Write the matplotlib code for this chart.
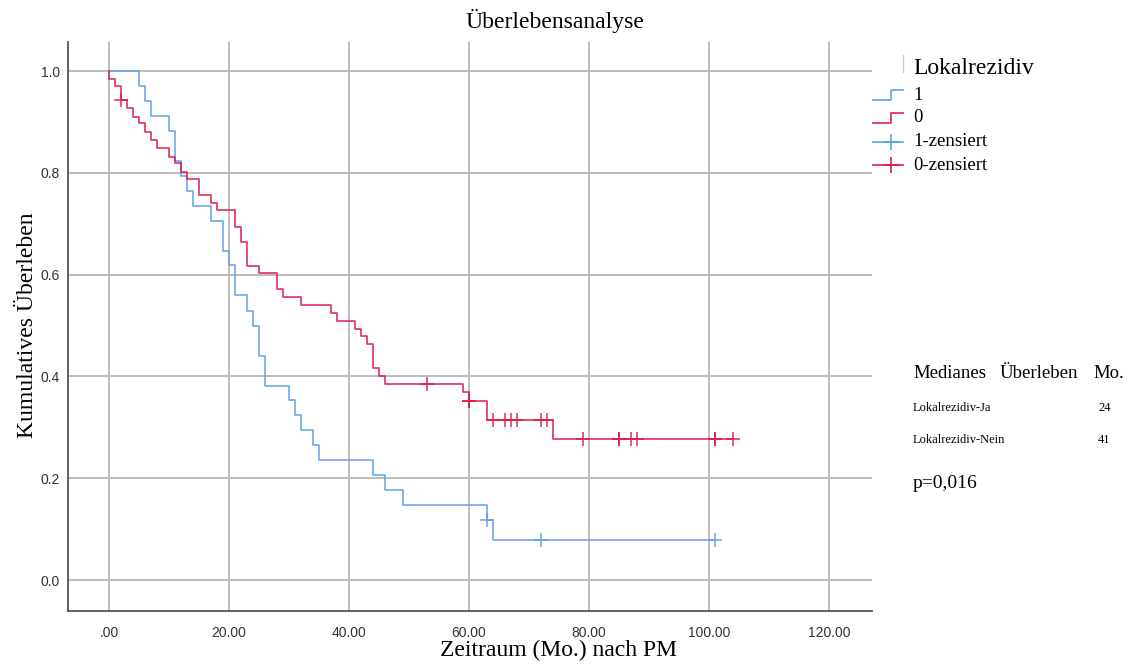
import numpy as np
import matplotlib
matplotlib.use('Agg')
import matplotlib.pyplot as plt
from matplotlib.lines import Line2D
from matplotlib import font_manager

# Lokalrezidiv = 1 (Ja): event times and survival after each drop
blue_event_t = [5, 6, 7, 10, 11, 12, 13, 14, 17, 19, 20, 21, 23, 24, 25, 26,
                30, 31, 32, 34, 35, 44, 46, 49, 63, 64]
blue_surv = [0.971, 0.941, 0.912, 0.882, 0.824, 0.794, 0.765, 0.735, 0.706,
             0.647, 0.618, 0.559, 0.529, 0.500, 0.441, 0.382, 0.353, 0.324,
             0.294, 0.265, 0.235, 0.206, 0.176, 0.147, 0.118, 0.078]
blue_end = 101
blue_cens_t = [63, 72, 101]

# Lokalrezidiv = 0 (Nein)
red_event_t = [0, 1, 2, 3, 4, 5, 6, 7, 8, 10, 11, 12, 13, 15, 17, 18, 21, 22,
               23, 25, 28, 29, 32, 37, 38, 41, 42, 43, 44, 45, 46, 59, 60, 63, 74]
red_surv = [0.985, 0.970, 0.943, 0.927, 0.910, 0.897, 0.881, 0.864, 0.848,
            0.832, 0.819, 0.802, 0.787, 0.756, 0.741, 0.726, 0.694, 0.665,
            0.617, 0.603, 0.571, 0.556, 0.541, 0.525, 0.509, 0.494, 0.479,
            0.463, 0.416, 0.401, 0.385, 0.370, 0.352, 0.314, 0.278]
red_end = 104
red_cens_t = [2, 53, 60, 60, 64, 66, 67, 68, 72, 73, 79, 85, 85, 87, 88,
              101, 101, 104]

x_ticks = [0, 20, 40, 60, 80, 100, 120]
x_ticklabels = ['.00', '20.00', '40.00', '60.00', '80.00', '100.00', '120.00']
y_ticks = [0.0, 0.2, 0.4, 0.6, 0.8, 1.0]

legend_labels = ['1', '0', '1-zensiert', '0-zensiert']
median_rows = [('Lokalrezidiv-Ja', '24'), ('Lokalrezidiv-Nein', '41')]
p_text = 'p=0,016'

BLUE = '#5f9fe8'
RED = '#dc1a48'
GRID = '#bdbdbd'
SERIF = 'Liberation Serif'

# narrow sans for tick labels if available
try:
    font_manager.findfont('Liberation Sans Narrow', fallback_to_default=False)
    TICKFONT = 'Liberation Sans Narrow'
except Exception:
    TICKFONT = 'Liberation Sans'

W, H = 1131, 665
fig = plt.figure(figsize=(W / 100, H / 100), dpi=100)


def px(x, y):
    # pixel position -> figure fraction
    return x / W, 1 - y / H


ax = fig.add_axes([68 / W, 1 - 611 / H, (872 - 68) / W, (611 - 42) / H])
ax.set_xlim(-6.83, 127.2)
ax.set_ylim(-0.0609, 1.057)


def km_steps(ev_t, surv, end):
    xs = [0] + list(ev_t) + [end]
    ys = [1.0] + list(surv) + [surv[-1]]
    return xs, ys


def surv_at(ev_t, surv, t):
    i = np.searchsorted(ev_t, t, side='right')
    return 1.0 if i == 0 else surv[i - 1]


for ev_t, surv, end, cens, col in [
        (blue_event_t, blue_surv, blue_end, blue_cens_t, BLUE),
        (red_event_t, red_surv, red_end, red_cens_t, RED)]:
    xs, ys = km_steps(ev_t, surv, end)
    ax.plot(xs, ys, drawstyle='steps-post', color=col, lw=1.2, alpha=0.9, zorder=3)
    cy = [surv_at(ev_t, surv, t) for t in cens]
    ax.plot(cens, cy, ls='none', marker='+', ms=10, mew=1.2, color=col,
            alpha=0.85, zorder=4)

ax.set_xticks(x_ticks)
ax.set_xticklabels(x_ticklabels)
ax.set_yticks(y_ticks)
ax.set_yticklabels(['%.1f' % v for v in y_ticks])
ax.tick_params(length=0, labelcolor='#333333', labelsize=10)
ax.tick_params(axis='x', pad=11)
ax.tick_params(axis='y', pad=6)
for lab in ax.get_xticklabels() + ax.get_yticklabels():
    lab.set_family(TICKFONT)
ax.grid(True, color=GRID, lw=1.4)
ax.set_axisbelow(True)
for s in ['top', 'right']:
    ax.spines[s].set_visible(False)
for s in ['left', 'bottom']:
    ax.spines[s].set_color('#555555')
    ax.spines[s].set_linewidth(1.3)

# titles and axis labels
fig.text(*px(555, 21), 'Überlebensanalyse', family=SERIF, fontsize=17,
         ha='center', va='center')
fig.text(*px(28, 325), 'Kumulatives Überleben', family=SERIF, fontsize=17,
         rotation=90, ha='center', va='center')
fig.text(*px(558, 650), 'Zeitraum (Mo.) nach PM', family=SERIF, fontsize=17,
         ha='center', va='center')

# legend, drawn by hand
fig.add_artist(Line2D(*zip(px(903, 55), px(903, 72)), color='#cccccc', lw=1))
fig.text(*px(913, 69), 'Lokalrezidiv', family=SERIF, fontsize=17,
         ha='left', va='center')
leg_y = [95, 118, 142, 165]
for i, (lab, col) in enumerate(zip(legend_labels, [BLUE, RED, BLUE, RED])):
    y = leg_y[i]
    if i < 2:
        xs = [873, 891, 891, 903]
        ys = [y + 5, y + 5, y - 5, y - 5]
        fig.add_artist(Line2D(*zip(*[px(a, b) for a, b in zip(xs, ys)]),
                              color=col, lw=1.3, alpha=0.9))
    else:
        fig.add_artist(Line2D(*zip(px(873, y), px(903, y)), color=col, lw=1.3,
                              alpha=0.9))
        fig.add_artist(Line2D(*zip(px(891, y)), marker='+', ms=11, mew=1.3,
                              color=col, ls='none', alpha=0.9))
    fig.text(*px(913, y), lab, family=SERIF, fontsize=13.5, ha='left',
             va='center')

# medians and p-value
fig.text(*px(913, 373), 'Medianes', family=SERIF, fontsize=13.5, va='center')
fig.text(*px(1000, 373), 'Überleben', family=SERIF, fontsize=13.5, va='center')
fig.text(*px(1093, 373), 'Mo.', family=SERIF, fontsize=13.5, va='center')
for (name, val), y in zip(median_rows, [408, 440]):
    fig.text(*px(913, y), name, family=SERIF, fontsize=9, va='center')
    fig.text(*px(1098, y), val, family=SERIF, fontsize=9, va='center')
fig.text(*px(913, 484), p_text, family=SERIF, fontsize=14, va='center')

fig.savefig('out.png', dpi=100)
